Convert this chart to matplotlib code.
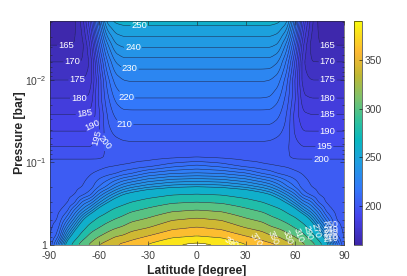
import numpy as np
import matplotlib
matplotlib.use('Agg')
import matplotlib.pyplot as plt
from matplotlib.colors import LinearSegmentedColormap, Normalize
from matplotlib.cm import ScalarMappable

plt.rcParams['font.family'] = ['Liberation Sans', 'DejaVu Sans']
plt.rcParams['mathtext.fontset'] = 'custom'
plt.rcParams['mathtext.rm'] = 'Liberation Sans'
plt.rcParams['mathtext.default'] = 'regular'
plt.rcParams['axes.unicode_minus'] = False

# latitude of the columns (one hemisphere, mirrored below)
lat_half = [0, 15, 30, 40, 45, 50, 55, 60, 65, 70, 75, 80, 85, 90]
# log10 pressure of the rows
logp = [-2.715, -2.42, -2.22, -2.0, -1.78, -1.58, -1.38, -1.19, -1.055, -0.97,
        -0.873, -0.703, -0.618, -0.52, -0.424, -0.327, -0.218, -0.109, 0.0]

# temperature [K]
temp_rows = [
    [252, 252, 252, 252, 252, 251, 247, 222, 190, 172, 163, 161, 160, 160],
    [241, 241, 241, 241, 241, 239, 228, 208, 180, 168, 165, 165, 165, 165],
    [233, 233, 233, 233, 233, 230, 219, 200, 176, 170, 170, 170, 170, 170],
    [225.5, 225.5, 225.5, 225.5, 225, 222, 212, 195, 177, 175, 175, 175, 175, 175],
    [220, 220, 220, 220, 219.5, 216, 208, 196, 181, 180, 180, 180, 180, 180],
    [213, 213, 213, 213, 213, 211, 205, 193, 186, 185, 185, 185, 185, 185],
    [208, 208, 208, 208, 208, 206.5, 203, 194, 190, 190, 190, 190, 190, 190],
    [203.5, 203.5, 203.5, 203.5, 203, 202, 201, 197, 195, 195, 195, 195, 195, 195],
    [205, 204.5, 203.8, 203.8, 203.5, 202, 200.5, 199.5, 199.5, 199.5, 199.5, 199.5, 199.5, 199.5],
    [215, 212, 207, 205.5, 205, 204.5, 204, 203, 202.5, 202.5, 202.5, 202.5, 202.5, 202.5],
    [225, 224, 220, 214, 212, 209, 207.5, 206, 204.5, 203.5, 203, 203, 203, 203],
    [250, 248.5, 244, 239, 235, 229, 221, 215, 207.5, 205, 204, 203.5, 203.5, 203.5],
    [270, 267.5, 260, 253, 249, 242, 234, 225, 213, 208, 204.5, 204, 204, 204],
    [290, 287, 278, 270, 264, 257, 248, 238, 227, 221, 208, 204, 204, 204],
    [310, 306, 294, 286, 280, 274, 265, 254, 241, 231, 220, 206.5, 204, 204],
    [330, 325, 310, 302, 294, 288, 280, 272, 259, 245, 229, 215, 204.5, 204],
    [350, 344, 328, 320, 312, 306, 298, 288, 278, 260, 242, 226, 207, 204],
    [370, 365, 350, 340, 332, 328, 318, 308, 296, 279, 257, 238, 212, 204],
    [396, 390, 372, 361, 356, 349, 340, 330, 314, 301, 279, 252, 225, 204],
]

levels = list(range(160, 255, 5)) + list(range(270, 410, 20))
labelled = [165, 170, 175, 180, 185, 190, 195, 200, 210, 220, 230, 240, 250]
plain = [v for v in levels if v not in labelled]

# contour labels upper part: latitude, log10 pressure, rotation
label_lat = [-80, -76, -73, -72, -69, -65, -61, -56,
             80, 80, 80, 80, 80, 80, 78, 76,
             -35, -39, -41, -43, -44]
label_logp = [-2.424, -2.218, -2.0, -1.794, -1.612, -1.455, -1.297, -1.248,
              -2.424, -2.218, -2.0, -1.782, -1.576, -1.382, -1.188, -1.006,
              -2.642, -2.412, -2.145, -1.806, -1.479]
label_rot = [0, 0, 0, 0, 8, 25, 75, -50,
             0, 0, 0, 0, 0, 0, 0, 0,
             0, 0, 0, 0, 0]

# labels crowded along the bottom right
low_text = ['390', '370', '350', '330', '310', '290', '270', '250', '240', '230', '220', '210']
low_lat = [21.4, 36, 46.5, 55.6, 62.3, 67.8, 72.7, 81.9, 81.9, 81.9, 81.9, 81.9]
low_logp = [-0.024, -0.06, -0.085, -0.097, -0.121, -0.145, -0.17, -0.242, -0.182, -0.145, -0.097, -0.073]
low_rot = [-30, -55, -65, -70, -70, -75, -75, 5, 5, 5, 5, 5]

parula_stops = [(0.0, (0.24, 0.15, 0.66)),
                (0.13, (0.27, 0.27, 0.93)),
                (0.25, (0.20, 0.47, 0.98)),
                (0.37, (0.12, 0.62, 0.88)),
                (0.47, (0.03, 0.72, 0.75)),
                (0.56, (0.20, 0.76, 0.60)),
                (0.66, (0.50, 0.76, 0.42)),
                (0.76, (0.75, 0.72, 0.20)),
                (0.86, (0.99, 0.72, 0.20)),
                (1.0, (0.98, 0.98, 0.05))]
parula = LinearSegmentedColormap.from_list('parula', parula_stops)

half = np.array(temp_rows, dtype=float)
T = np.hstack([half[:, :0:-1], half])
lat = np.concatenate([-np.array(lat_half[:0:-1]), lat_half])
logp = np.array(logp)


# resample on a fine grid and smooth a little, the table is coarse
def smooth(values, n):
    kernel = np.ones(n) / n
    padded = np.pad(values, n // 2, mode='edge')
    return np.convolve(padded, kernel, mode='valid')


lat_fine = np.arange(-90, 90.5, 0.5)
logp_fine = np.arange(-2.715, 0.005, 0.01)
T_fine = np.array([np.interp(lat_fine, lat, row) for row in T])
T_fine = np.array([np.interp(logp_fine, logp, col) for col in T_fine.T]).T
T_fine = np.array([smooth(row, 7) for row in T_fine])
T_fine = np.array([smooth(col, 5) for col in T_fine.T]).T

norm = Normalize(160, 390)

fig = plt.figure(figsize=(4.07, 2.76), dpi=100)
ax = fig.add_axes([49.5 / 407, 1 - 245 / 276, 294.5 / 407, 224 / 276])
ax.set_xlim(-90, 90)
ax.set_ylim(0, -2.715)
ax.contourf(lat_fine, logp_fine, T_fine, levels=levels, cmap=parula, norm=norm)
ax.contour(lat_fine, logp_fine, T_fine, levels=plain, colors='#20204a', linewidths=0.35)
cs = ax.contour(lat_fine, logp_fine, T_fine, levels=labelled, colors='#20204a', linewidths=0.35)
ax.clabel(cs, fontsize=6.8, colors='white', manual=list(zip(label_lat, label_logp)),
          inline=True, inline_spacing=1, fmt='%d')
for txt, rot in zip(cs.labelTexts, label_rot):
    txt.set_rotation(rot)
for s, x, y, rot in zip(low_text, low_lat, low_logp, low_rot):
    ax.text(x, y, s, color='white', fontsize=6.5, rotation=rot, ha='center', va='center',
            rotation_mode='anchor', clip_on=True)

ax.set_xticks(range(-90, 91, 30))
ax.set_yticks([0, -1, -2])
ax.set_yticklabels(['1', r'$10^{-1}$', r'$10^{-2}$'])
minor = [d + np.log10(m) for d in (-3, -2, -1) for m in range(2, 10)]
ax.set_yticks([v for v in minor if v > -2.715], minor=True)
ax.tick_params(which='both', direction='in', top=True, right=True, width=0.4, color='#262626',
               labelcolor='#404040', labelsize=7.5, pad=2)
ax.tick_params(axis='x', pad=4)
ax.tick_params(which='major', length=3)
ax.tick_params(which='minor', length=1.5)
for s in ax.spines.values():
    s.set_linewidth(0.4)
    s.set_color('#262626')
ax.set_xlabel('Latitude [degree]', fontsize=8.8, fontweight='bold', color='#262626', labelpad=3.5)
ax.set_ylabel('Pressure [bar]', fontsize=8.8, fontweight='bold', color='#262626', labelpad=-1)

cax = fig.add_axes([354 / 407, 1 - 245 / 276, 7.5 / 407, 224 / 276])
cb = fig.colorbar(ScalarMappable(norm=norm, cmap=parula), cax=cax)
cb.set_ticks([200, 250, 300, 350])
cb.ax.tick_params(direction='in', length=2, width=0.4, labelsize=7.5, labelcolor='#404040', pad=2)
cb.outline.set_linewidth(0.4)

fig.savefig('out.png', dpi=100)
